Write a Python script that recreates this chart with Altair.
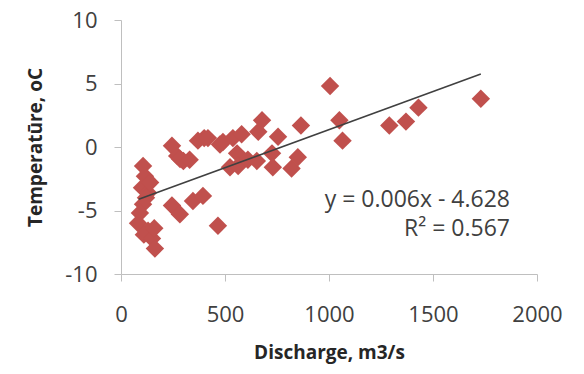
import altair as alt
import pandas as pd

# Discharge (m3/s) and temperature (oC)
discharge = [106, 115, 101, 130, 140, 106, 91, 82, 130, 110, 149, 163, 160, 120,
             245, 270, 300, 284, 330, 370, 400, 418, 476, 490, 538, 558, 524, 563, 580, 610,
             653, 660, 678, 726, 730, 755, 820, 850, 865,
             245, 283, 346, 394, 466,
             1005, 1050, 1065, 1290, 1370, 1430, 1730]
temperature = [-1.5, -2.3, -3.2, -3.6, -2.8, -4.5, -5.2, -6.0, -6.6, -6.9, -7.2, -8.0, -6.4, -4.0,
               0.1, -0.7, -1.1, -0.95, -1.0, 0.5, 0.7, 0.7, 0.2, 0.4, 0.7, -0.5, -1.6, -1.5, 1.0, -1.0,
               -1.1, 1.2, 2.1, -0.5, -1.6, 0.8, -1.7, -0.8, 1.7,
               -4.6, -5.3, -4.25, -3.85, -6.2,
               4.8, 2.1, 0.5, 1.7, 2.0, 3.1, 3.8]

# Linear trendline endpoints (y = 0.006x - 4.628)
trend_x = [85, 1730]
trend_y = [-4.12, 5.75]

annotations = ["y = 0.006x - 4.628", "R\u00b2 = 0.567"]

x_ticks = [0, 500, 1000, 1500, 2000]
y_ticks = [-10, -5, 0, 5, 10]

pts = pd.DataFrame({"Discharge": discharge, "Temperature": temperature})
trend = pd.DataFrame({"Discharge": trend_x, "Temperature": trend_y})

FONT = "Open Sans"
AX = "#BFBFBF"

xscale = alt.Scale(domain=[0, 2000], nice=False)
yscale = alt.Scale(domain=[-10, 10], nice=False)

xaxis = alt.Axis(values=x_ticks, title="Discharge, m3/s", grid=False,
                 labelExpr="'' + datum.value", labelFlush=False,
                 domainColor=AX, tickColor=AX, tickSize=7, labelPadding=23,
                 labelFont=FONT, labelFontSize=22, labelColor="#404040",
                 titleFont=FONT, titleFontSize=19, titleFontWeight="bold",
                 titleColor="#262626", titlePadding=18)
yaxis = alt.Axis(values=y_ticks, title="Temperatūre, oC", grid=False,
                 labelExpr="'' + datum.value", labelFlush=False,
                 domainColor=AX, tickColor=AX, tickSize=7, labelPadding=17,
                 labelFont=FONT, labelFontSize=22, labelColor="#404040",
                 titleFont=FONT, titleFontSize=19, titleFontWeight="bold",
                 titleColor="#262626", titlePadding=19)

points = alt.Chart(pts).mark_point(shape="diamond", filled=True, size=340,
                                   color="#C0504D", opacity=1).encode(
    x=alt.X("Discharge:Q", scale=xscale, axis=xaxis),
    y=alt.Y("Temperature:Q", scale=yscale, axis=yaxis),
)

line = alt.Chart(trend).mark_line(color="#404040", strokeWidth=1.5).encode(
    x=alt.X("Discharge:Q", scale=xscale),
    y=alt.Y("Temperature:Q", scale=yscale),
)

text_layers = []
for label, ypix in zip(annotations, [180, 209]):
    text_layers.append(
        alt.Chart(pd.DataFrame({"label": [label]})).mark_text(
            align="right", baseline="middle", font=FONT, fontSize=23,
            color="#404040").encode(
            x=alt.value(389), y=alt.value(ypix), text="label:N")
    )

chart = alt.layer(points, line, *text_layers).properties(
    width=416, height=254,
    padding={"left": 113, "top": 12, "right": 30, "bottom": 96},
    autosize=alt.AutoSizeParams(type="none"),
).configure_view(stroke=None)

chart.save("out.html", embed_options={"renderer": "svg", "actions": False})
